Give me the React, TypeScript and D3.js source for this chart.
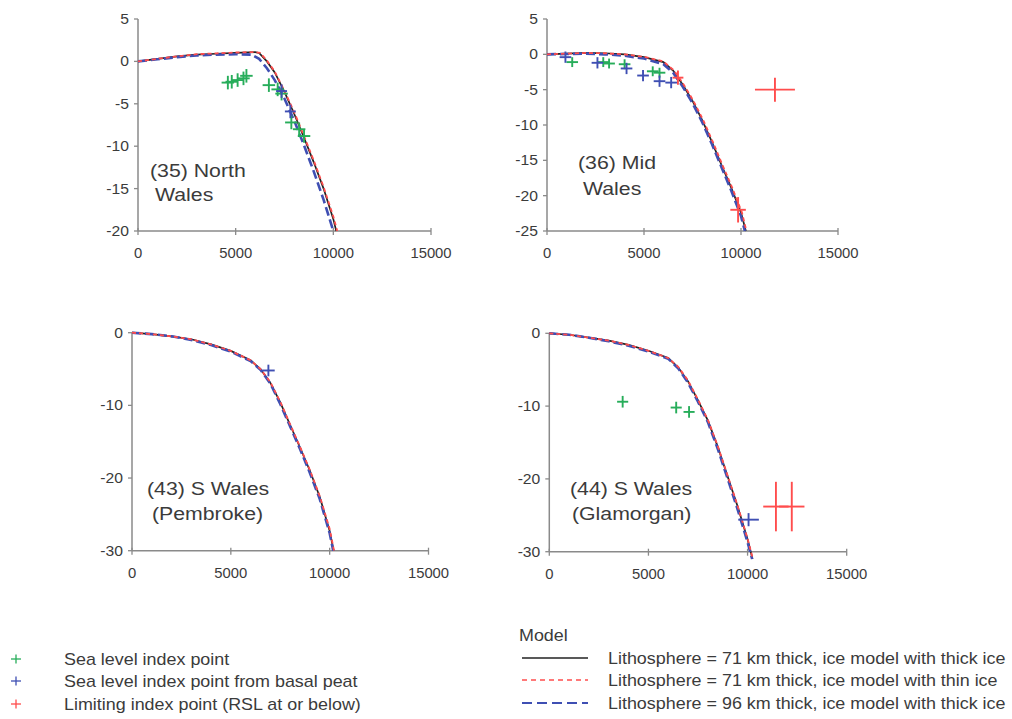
import React from "react";
import * as d3 from "d3";

type P = [number, number];
type Pt = { x: number; y: number; ex: number; ey: number };

// ---------- DATA ----------
const xTicks = [0, 5000, 10000, 15000];

// (35) North Wales
const nwThick71: P[] = [[0,0],[1000,0.3],[2000,0.6],[3000,0.8],[4000,0.9],[5000,1.0],[6000,1.1],[6200,1.0],[6600,0],[7000,-1.3],[7500,-3.6],[8000,-6.2],[8500,-9.0],[9000,-11.9],[9500,-15.0],[10000,-18.6],[10150,-20]];
const nwThin71: P[] = [[0,0],[1000,0.3],[2000,0.6],[3000,0.85],[4000,0.95],[5000,1.05],[6000,1.1],[6250,1.0],[6600,0.1],[7000,-1.2],[7500,-3.5],[8000,-6.0],[8500,-8.8],[9000,-11.7],[9500,-14.8],[10000,-18.3],[10200,-20]];
const nwThick96: P[] = [[0,0],[1000,0.25],[2000,0.5],[3000,0.7],[4000,0.8],[5000,0.85],[5800,0.8],[6200,0.3],[6600,-0.8],[7000,-2.2],[7500,-4.4],[8000,-7.0],[8500,-9.9],[9000,-13.0],[9500,-16.3],[10000,-20]];
const nwIndex: Pt[] = [
  {x:4600,y:-2.5,ex:320,ey:0.8},{x:4800,y:-2.4,ex:320,ey:0.8},{x:5100,y:-2.2,ex:320,ey:0.8},
  {x:5400,y:-2.0,ex:320,ey:0.8},{x:5550,y:-1.7,ex:320,ey:0.8},{x:6700,y:-2.8,ex:320,ey:0.8},
  {x:7150,y:-3.3,ex:320,ey:0.8},{x:7350,y:-3.8,ex:320,ey:0.8},{x:7850,y:-7.2,ex:320,ey:0.8},
  {x:8250,y:-8.0,ex:320,ey:0.8},{x:8500,y:-8.8,ex:320,ey:0.8}];
const nwPeat: Pt[] = [{x:7350,y:-3.5,ex:280,ey:0.8},{x:7800,y:-5.9,ex:280,ey:0.8}];
const nwLimit: Pt[] = [];

// (36) Mid Wales
const mwThick71: P[] = [[0,0],[1000,0.1],[2000,0.2],[3000,0.15],[4000,0],[5000,-0.4],[6000,-1.1],[6500,-2.3],[7000,-4.3],[7500,-6.6],[8000,-9.3],[8500,-12.4],[9000,-15.7],[9500,-18.9],[10000,-22.4],[10250,-25]];
const mwThin71: P[] = [[0,0],[1000,0.1],[2000,0.2],[3000,0.15],[4000,0],[5000,-0.35],[6000,-1.0],[6550,-2.3],[7050,-4.3],[7550,-6.6],[8050,-9.3],[8550,-12.4],[9050,-15.7],[9550,-18.9],[10050,-22.4],[10280,-25]];
const mwThick96: P[] = [[0,0],[1000,0.05],[2000,0.1],[3000,0],[4000,-0.2],[5000,-0.6],[6000,-1.4],[6500,-2.6],[7000,-4.6],[7500,-6.9],[8000,-9.6],[8500,-12.7],[9000,-16.0],[9500,-19.3],[10000,-22.9],[10200,-25]];
const mwIndex: Pt[] = [
  {x:1300,y:-1.1,ex:300,ey:0.7},{x:2900,y:-1.1,ex:300,ey:0.7},{x:3200,y:-1.3,ex:300,ey:0.7},
  {x:4000,y:-1.4,ex:300,ey:0.7},{x:5450,y:-2.4,ex:300,ey:0.7},{x:5800,y:-2.6,ex:300,ey:0.7}];
const mwPeat: Pt[] = [
  {x:950,y:-0.4,ex:300,ey:0.8},{x:2600,y:-1.2,ex:300,ey:0.8},{x:4100,y:-2.0,ex:300,ey:0.8},
  {x:4950,y:-3.0,ex:300,ey:0.8},{x:5800,y:-3.8,ex:300,ey:0.8},{x:6400,y:-4.0,ex:300,ey:0.8}];
const mwLimit: Pt[] = [
  {x:6750,y:-3.3,ex:280,ey:1.0},{x:11750,y:-5.0,ex:1030,ey:1.7},{x:9850,y:-22.0,ex:400,ey:1.8}];

// (43) S Wales (Pembroke)
const pbThick71: P[] = [[0,0],[1000,-0.2],[2000,-0.5],[3000,-0.9],[4000,-1.6],[5000,-2.5],[6000,-3.8],[6500,-5.0],[7000,-6.9],[7500,-9.6],[8000,-12.7],[8500,-15.8],[9000,-19.0],[9500,-22.6],[10000,-27.3],[10200,-30]];
const pbThin71: P[] = [[0,0],[1000,-0.2],[2000,-0.5],[3000,-0.9],[4000,-1.6],[5000,-2.5],[6000,-3.8],[6500,-5.0],[7000,-6.8],[7500,-9.5],[8000,-12.6],[8500,-15.7],[9000,-18.9],[9500,-22.5],[10000,-27.0],[10220,-30]];
const pbThick96: P[] = [[0,0],[1000,-0.2],[2000,-0.5],[3000,-1.0],[4000,-1.7],[5000,-2.6],[6000,-3.9],[6500,-5.1],[7000,-7.0],[7500,-9.8],[8000,-12.9],[8500,-16.0],[9000,-19.3],[9500,-22.9],[10000,-27.6],[10180,-30]];
const pbIndex: Pt[] = [];
const pbPeat: Pt[] = [{x:6900,y:-5.2,ex:320,ey:0.8}];
const pbLimit: Pt[] = [];

// (44) S Wales (Glamorgan)
const gmThick71: P[] = [[0,0],[1000,-0.2],[2000,-0.6],[3000,-1.0],[4000,-1.6],[5000,-2.4],[6000,-3.4],[6500,-4.7],[7000,-6.6],[7500,-9.2],[8000,-12.0],[8500,-15.6],[9000,-19.7],[9500,-23.8],[10000,-28.3],[10250,-31]];
const gmThin71: P[] = [[0,0],[1000,-0.2],[2000,-0.6],[3000,-1.0],[4000,-1.6],[5000,-2.4],[6000,-3.4],[6500,-4.6],[7000,-6.5],[7500,-9.1],[8000,-11.9],[8500,-15.5],[9000,-19.6],[9500,-23.7],[10000,-28.2],[10270,-31]];
const gmThick96: P[] = [[0,0],[1000,-0.2],[2000,-0.6],[3000,-1.1],[4000,-1.7],[5000,-2.5],[6000,-3.5],[6500,-4.8],[7000,-6.8],[7500,-9.4],[8000,-12.2],[8500,-15.9],[9000,-20.0],[9500,-24.2],[10000,-28.7],[10230,-31]];
const gmIndex: Pt[] = [
  {x:3700,y:-9.4,ex:280,ey:0.8},{x:6400,y:-10.2,ex:280,ey:0.8},{x:7050,y:-10.8,ex:280,ey:0.8}];
const gmPeat: Pt[] = [{x:10050,y:-25.6,ex:520,ey:0.9}];
const gmLimit: Pt[] = [{x:11430,y:-23.8,ex:640,ey:3.4},{x:12230,y:-23.8,ex:640,ey:3.4}];

const pointLegend = [
  "Sea level index point",
  "Sea level index point from basal peat",
  "Limiting index point (RSL at or below)",
];
const modelLegend = [
  "Lithosphere = 71 km thick, ice model with thick ice",
  "Lithosphere = 71 km thick, ice model with thin ice",
  "Lithosphere = 96 km thick, ice model with thick ice",
];

// ---------- STYLE / LAYOUT ----------
const GREEN = "#27ad5a";
const BLUE = "#3f4fb3";
const RED = "#ff4d4d";
const TEXT = "#3b3b3b";
const AXIS = "#8a8a8a";
const FONT = "'Liberation Sans', Arial, sans-serif";

const pointColors = [GREEN, BLUE, RED];
const lineStyles = [
  { stroke: "#222", width: 1.7, dash: "none" },
  { stroke: RED, width: 1.8, dash: "4,3" },
  { stroke: BLUE, width: 2.6, dash: "9,4" },
];

const panels = [
  { label: ["(35) North", "Wales"], lx: [150, 155], ly: [177, 201], yDom: [-20, 5], yTicks: [5, 0, -5, -10, -15, -20],
    x0: 138, x1: 431, y0: 19, y1: 231, lines: [nwThick71, nwThin71, nwThick96], pts: [nwIndex, nwPeat, nwLimit] },
  { label: ["(36) Mid", "Wales"], lx: [578, 583], ly: [169, 195], yDom: [-25, 5], yTicks: [5, 0, -5, -10, -15, -20, -25],
    x0: 547, x1: 838, y0: 19, y1: 231, lines: [mwThick71, mwThin71, mwThick96], pts: [mwIndex, mwPeat, mwLimit] },
  { label: ["(43) S Wales", "(Pembroke)"], lx: [147, 152], ly: [495, 520], yDom: [-30, 0], yTicks: [0, -10, -20, -30],
    x0: 132, x1: 428.5, y0: 332.7, y1: 550.7, lines: [pbThick71, pbThin71, pbThick96], pts: [pbIndex, pbPeat, pbLimit] },
  { label: ["(44) S Wales", "(Glamorgan)"], lx: [570, 572], ly: [495, 520], yDom: [-30, 0], yTicks: [0, -10, -20, -30],
    x0: 549.3, x1: 846.7, y0: 333.3, y1: 551.7, lines: [gmThick71, gmThin71, gmThick96], pts: [gmIndex, gmPeat, gmLimit] },
];

function SText({ x, y, size, sx = 1, anchor = "start", children }: any) {
  return (
    <g transform={`translate(${x},${y}) scale(${sx},1)`}>
      <text x={0} y={0} fontSize={size} fontFamily={FONT} fill={TEXT} textAnchor={anchor}>{children}</text>
    </g>
  );
}

function Panel({ p }: any) {
  const xs = d3.scaleLinear().domain([0, 15000]).range([p.x0, p.x1]);
  const ys = d3.scaleLinear().domain(p.yDom).range([p.y1, p.y0]);
  const line = d3.line<P>().x(d => xs(d[0])).y(d => ys(d[1]));
  const order = [0, 2, 1];
  return (
    <g>
      <line x1={p.x0} x2={p.x0} y1={p.y0} y2={p.y1} stroke={AXIS} strokeWidth={1.5} />
      <line x1={p.x0} x2={p.x1} y1={p.y1} y2={p.y1} stroke={AXIS} strokeWidth={1.5} />
      {p.yTicks.map((t: number) => (
        <g key={"y" + t}>
          <line x1={p.x0 - 4} x2={p.x0} y1={ys(t)} y2={ys(t)} stroke={AXIS} strokeWidth={1.3} />
          <SText x={p.x0 - 9} y={ys(t) + 5} size={14} sx={1.12} anchor="end">{t}</SText>
        </g>
      ))}
      {xTicks.map((t) => (
        <g key={"x" + t}>
          <line x1={xs(t)} x2={xs(t)} y1={p.y1 - 3} y2={p.y1 + 4} stroke={AXIS} strokeWidth={1.3} />
          <SText x={xs(t)} y={p.y1 + 27} size={14} sx={1.06} anchor="middle">{t}</SText>
        </g>
      ))}
      {order.map((i) => (
        <path key={"l" + i} d={line(p.lines[i]) || ""} fill="none" stroke={lineStyles[i].stroke}
          strokeWidth={lineStyles[i].width} strokeDasharray={lineStyles[i].dash} />
      ))}
      {p.pts.map((arr: Pt[], k: number) =>
        arr.map((d, j) => (
          <g key={"p" + k + "_" + j} stroke={pointColors[k]} strokeWidth={1.9}>
            <line x1={xs(d.x - d.ex)} x2={xs(d.x + d.ex)} y1={ys(d.y)} y2={ys(d.y)} />
            <line x1={xs(d.x)} x2={xs(d.x)} y1={ys(d.y - d.ey)} y2={ys(d.y + d.ey)} />
          </g>
        ))
      )}
      {p.label.map((s: string, i: number) => (
        <SText key={"t" + i} x={p.lx[i]} y={p.ly[i]} size={18.5} sx={1.15}>{s}</SText>
      ))}
    </g>
  );
}

export default function App() {
  const rowsY = [659, 681, 704];
  const modelY = [658, 680, 703];
  return (
    <svg width={1012} height={719} style={{ position: "absolute", left: 0, top: 0, background: "#fff" }}>
      <rect x={0} y={0} width={1012} height={719} fill="#fff" />
      {panels.map((p, i) => <Panel key={i} p={p} />)}
      {pointLegend.map((s, i) => (
        <g key={"pl" + i}>
          <g stroke={pointColors[i]} strokeWidth={1.3}>
            <line x1={11} x2={21} y1={rowsY[i]} y2={rowsY[i]} />
            <line x1={16} x2={16} y1={rowsY[i] - 4.5} y2={rowsY[i] + 4.5} />
          </g>
          <SText x={64} y={rowsY[i] + 6} size={16} sx={1.12}>{s}</SText>
        </g>
      ))}
      <SText x={519} y={641} size={16} sx={1.12}>Model</SText>
      {modelLegend.map((s, i) => (
        <g key={"ml" + i}>
          <line x1={522} x2={588} y1={modelY[i]} y2={modelY[i]} stroke={lineStyles[i].stroke}
            strokeWidth={i === 2 ? 2.2 : 1.6} strokeDasharray={i === 0 ? "none" : i === 1 ? "5,4" : "10,5"} />
          <SText x={608} y={modelY[i] + 6} size={16} sx={1.12}>{s}</SText>
        </g>
      ))}
    </svg>
  );
}
